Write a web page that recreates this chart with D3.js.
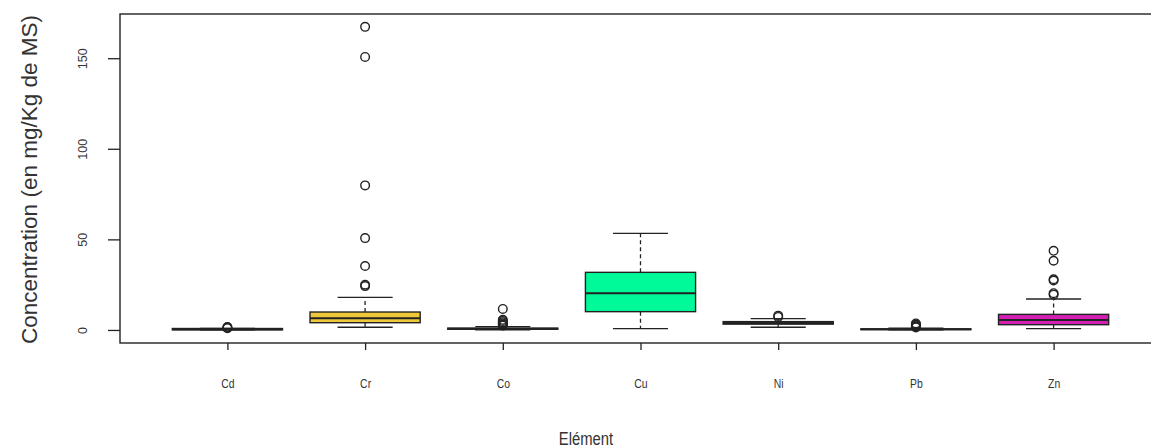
<!DOCTYPE html>
<html>
<head>
<meta charset="utf-8">
<script src="https://cdn.jsdelivr.net/npm/d3@7"></script>
<style>
  html, body { margin: 0; padding: 0; background: #fff; }
  svg { display: block; }
  text { font-family: "Liberation Sans", Arial, sans-serif; fill: #000; }
</style>
</head>
<body>
<svg id="chart" width="1151" height="448"></svg>
<script>
// ---- data ----
const categories = ["Cd", "Cr", "Co", "Cu", "Ni", "Pb", "Zn"];
const whiskerLow  = [0.05, 1.5, 0.05, 0.7, 1.5, 0.05, 0.7];
const q1          = [0.05, 4.0, 0.4, 10.1, 3.2, 0.2, 2.9];
const medians     = [0.4, 6.4, 0.7, 20.2, 3.9, 0.4, 5.5];
const q3          = [0.8, 9.9, 1.0, 31.8, 4.6, 0.6, 8.6];
const whiskerHigh = [0.9, 18.0, 1.8, 53.3, 6.3, 1.0, 17.1];
const outliers = [
  [1.0, 1.3, 1.6],
  [24.2, 25.0, 35.3, 50.7, 79.8, 150.7, 167.3],
  [2.4, 3.0, 3.6, 4.3, 5.0, 5.6, 11.6],
  [],
  [7.2, 7.9],
  [1.4, 1.9, 2.5, 3.0, 3.6],
  [19.5, 20.3, 27.3, 28.0, 38.2, 43.7]
];
const fills = ["#ffffff", "#EFC83A", "#ffffff", "#00FA9A", "#ffffff", "#ffffff", "#D41FB4"];
const yTicks = [0, 50, 100, 150];
const yLabel = "Concentration (en mg/Kg de MS)";
const xLabel = "Elément";

// ---- layout ----
const svg = d3.select("#chart");
const plot = { left: 120, right: 1161, top: 14, bottom: 343 };

const x = d3.scaleLinear().domain([0.22, 7.78]).range([plot.left, plot.right]);
const y = d3.scaleLinear().domain([-7.2, 174.4]).range([plot.bottom, plot.top]);
const unit = x(1) - x(0);
const boxW = 0.8 * unit, capW = 0.4 * unit;
const ink = "#222";

const data = categories.map((c, i) => ({
  cat: c, pos: i + 1, lo: whiskerLow[i], q1: q1[i], med: medians[i],
  q3: q3[i], hi: whiskerHigh[i], out: outliers[i], fill: fills[i]
}));

const g = svg.append("g");
const box = g.selectAll("g.box").data(data).enter().append("g").attr("class", "box");

// whiskers (dashed)
box.append("line")
  .attr("x1", d => x(d.pos)).attr("x2", d => x(d.pos))
  .attr("y1", d => y(d.q3)).attr("y2", d => y(d.hi))
  .attr("stroke", ink).attr("stroke-width", 1.3).attr("stroke-dasharray", "4,3");
box.append("line")
  .attr("x1", d => x(d.pos)).attr("x2", d => x(d.pos))
  .attr("y1", d => y(d.q1)).attr("y2", d => y(d.lo))
  .attr("stroke", ink).attr("stroke-width", 1.3).attr("stroke-dasharray", "4,3");
// caps
["hi", "lo"].forEach(k => {
  box.append("line")
    .attr("x1", d => x(d.pos) - capW / 2).attr("x2", d => x(d.pos) + capW / 2)
    .attr("y1", d => y(d[k])).attr("y2", d => y(d[k]))
    .attr("stroke", ink).attr("stroke-width", 1.3);
});
// box
box.append("rect")
  .attr("x", d => x(d.pos) - boxW / 2).attr("width", boxW)
  .attr("y", d => y(d.q3)).attr("height", d => Math.max(0.5, y(d.q1) - y(d.q3)))
  .attr("fill", d => d.fill).attr("stroke", ink).attr("stroke-width", 1.4);
// median
box.append("line")
  .attr("x1", d => x(d.pos) - boxW / 2).attr("x2", d => x(d.pos) + boxW / 2)
  .attr("y1", d => y(d.med)).attr("y2", d => y(d.med))
  .attr("stroke", ink).attr("stroke-width", 2);
// outliers
box.selectAll("circle").data(d => d.out.map(v => ({ pos: d.pos, v }))).enter()
  .append("circle")
  .attr("cx", d => x(d.pos)).attr("cy", d => y(d.v)).attr("r", 4.3)
  .attr("fill", "none").attr("stroke", ink).attr("stroke-width", 1.4);

// frame
svg.append("rect")
  .attr("x", plot.left).attr("y", plot.top)
  .attr("width", plot.right - plot.left).attr("height", plot.bottom - plot.top)
  .attr("fill", "none").attr("stroke", ink).attr("stroke-width", 1.4);

// y axis
const yAxis = d3.axisLeft(y).tickValues(yTicks).tickSize(12).tickFormat(d3.format("d"));
const ya = svg.append("g").attr("transform", `translate(${plot.left},0)`).call(yAxis);
ya.select(".domain").remove();
ya.selectAll(".tick line").attr("stroke", ink).attr("stroke-width", 1.3);
ya.selectAll(".tick text")
  .attr("x", 0).attr("dy", 0)
  .attr("transform", "translate(-37,0) rotate(-90)")
  .attr("text-anchor", "middle").attr("dominant-baseline", "central")
  .style("font-size", "12.5px").style("fill", "#333");

// x axis
const xAxis = d3.axisBottom(x).tickValues(data.map(d => d.pos))
  .tickFormat((d, i) => categories[i]).tickSize(7).tickPadding(29);
const xa = svg.append("g").attr("transform", `translate(0,${plot.bottom})`).call(xAxis);
xa.select(".domain").remove();
xa.selectAll(".tick line").attr("stroke", ink).attr("stroke-width", 1.3);
xa.selectAll(".tick text")
  .attr("transform", "scale(0.8,1)")
  .style("font-size", "13px").style("fill", "#333");

// axis titles
svg.append("text")
  .attr("transform", `translate(37,${(plot.top + plot.bottom) / 2 + 1}) rotate(-90)`)
  .attr("text-anchor", "middle")
  .style("font-size", "22.5px").style("fill", "#333")
  .text(yLabel);
svg.append("text")
  .attr("transform", "translate(586,445) scale(0.78,1)")
  .attr("text-anchor", "middle")
  .style("font-size", "19px").style("fill", "#333")
  .text(xLabel);
</script>
</body>
</html>
